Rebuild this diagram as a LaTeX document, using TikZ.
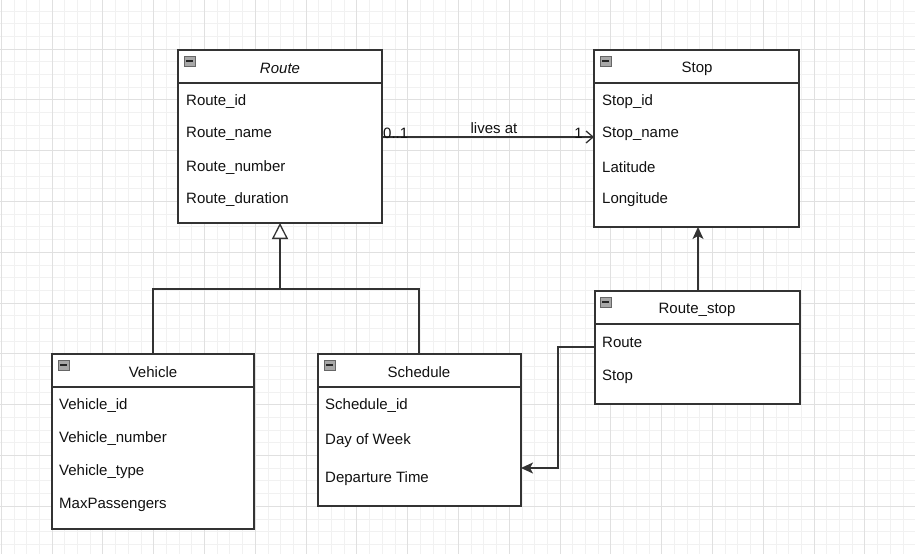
\documentclass[tikz,border=0pt]{standalone}
\usepackage{fontspec}
\setmainfont{Liberation Sans}
\usetikzlibrary{arrows.meta}
\definecolor{lineC}{HTML}{333333}
\definecolor{textC}{HTML}{111111}
\definecolor{gridMinor}{HTML}{F1F1F1}
\definecolor{gridMajor}{HTML}{E0E0E0}
\definecolor{iconFill}{HTML}{A8A8A8}
\tikzset{
  umlbox/.style={draw=lineC, line width=1.3pt, fill=white, rectangle, anchor=north west, inner sep=0pt, outer sep=0pt},
  hdrline/.style={draw=lineC, line width=1.3pt},
  ttl/.style={text=textC, font=\fontsize{15}{18}\selectfont, inner sep=0pt, yshift=-1.5pt},
  attr/.style={text=textC, font=\fontsize{15}{18}\selectfont, inner sep=0pt, anchor=west, yshift=-1.5pt},
  conn/.style={draw=lineC, line width=1.3pt},
  minusicon/.style={draw=gray!80!black, fill=iconFill, line width=0.6pt},
}
\newcommand{\minusmark}[2]{%
  \filldraw[minusicon] (#1,#2) rectangle ++(11,10);
  \draw[black!85, line width=1.4pt] (#1+2,#2+5) -- ++(7,0);
}
\begin{document}
\begin{tikzpicture}[x=1pt,y=-1pt]
\useasboundingbox (0,0) rectangle (915,554);
\fill[white] (0,0) rectangle (915,554);
% grid
\foreach \i in {-4,...,72} {
  \pgfmathsetmacro{\gx}{1.2+12.7*\i}
  \draw[gridMinor, line width=0.7pt] (\gx,0) -- (\gx,554);
}
\foreach \i in {-4,...,44} {
  \pgfmathsetmacro{\gy}{49+12.7*\i}
  \draw[gridMinor, line width=0.7pt] (0,\gy) -- (915,\gy);
}
\foreach \i in {-1,...,18} {
  \pgfmathsetmacro{\gx}{1.2+50.8*\i}
  \draw[gridMajor, line width=1pt] (\gx,0) -- (\gx,554);
}
\foreach \i in {-1,...,11} {
  \pgfmathsetmacro{\gy}{49+50.8*\i}
  \draw[gridMajor, line width=1pt] (0,\gy) -- (915,\gy);
}

% Route
\node[umlbox, minimum width=204pt, minimum height=173pt] (route) at (178,50) {};
\draw[hdrline] (178,83) -- (382,83);
\minusmark{184}{56}
\node[ttl, font=\fontsize{15}{18}\selectfont\itshape] (routeT) at (280,67) {Route};
\node[attr] (r1) at (186,100) {Route\_id};
\node[attr] (r2) at (186,132) {Route\_name};
\node[attr] (r3) at (186,166) {Route\_number};
\node[attr] (r4) at (186,198) {Route\_duration};

% Stop
\node[umlbox, minimum width=205pt, minimum height=177pt] (stop) at (594,50) {};
\draw[hdrline] (594,83) -- (799,83);
\minusmark{600}{56}
\node[ttl] (stopT) at (697,67) {Stop};
\node[attr] (s1) at (602,100) {Stop\_id};
\node[attr] (s2) at (602,132) {Stop\_name};
\node[attr] (s3) at (602,166) {Latitude};
\node[attr] (s4) at (602,198) {Longitude};

% Route_stop
\node[umlbox, minimum width=205pt, minimum height=113pt] (rstop) at (595,291) {};
\draw[hdrline] (595,324) -- (800,324);
\minusmark{600}{297}
\node[ttl] (rstopT) at (697,308) {Route\_stop};
\node[attr] (rs1) at (602,341) {Route};
\node[attr] (rs2) at (602,375) {Stop};

% Vehicle
\node[umlbox, minimum width=202pt, minimum height=175pt] (veh) at (52,354) {};
\draw[hdrline] (52,387) -- (254,387);
\minusmark{58}{360}
\node[ttl] (vehT) at (153,371) {Vehicle};
\node[attr] (v1) at (59,404) {Vehicle\_id};
\node[attr] (v2) at (59,437) {Vehicle\_number};
\node[attr] (v3) at (59,470) {Vehicle\_type};
\node[attr] (v4) at (59,503) {MaxPassengers};

% Schedule
\node[umlbox, minimum width=203pt, minimum height=152pt] (sch) at (318,354) {};
\draw[hdrline] (318,387) -- (521,387);
\minusmark{324}{360}
\node[ttl] (schT) at (419,371) {Schedule};
\node[attr] (sc1) at (325,404) {Schedule\_id};
\node[attr] (sc2) at (325,439) {Day of Week};
\node[attr] (sc3) at (325,477) {Departure Time};

% Route -> Stop association
\coordinate (aL) at (route.east |- 0,137);
\coordinate (aR) at (stop.west |- 0,137);
\draw[conn, -{Straight Barb[length=7pt,width=12pt,line width=1.3pt]}] (aL) -- (aR);
\node[ttl, anchor=west] (m1) at (383,132) {0..1};
\node[ttl, anchor=east] (m2) at (583,132) {1};
\node[ttl] (lbl) at (494,127) {lives at};

% Generalization
\coordinate (gj) at (280,289);
\coordinate (gl) at (153,289);
\coordinate (gr) at (419,289);
\draw[conn] (veh.north -| gl) -- (gl) -- (gr) -- (sch.north -| gr);
\draw[conn, -{Triangle[open,length=16pt,width=16pt,fill=white,line width=1.3pt]}] (gj) -- (route.south -| gj);

% Route_stop -> Stop
\draw[conn, -{Stealth[length=12pt,width=11pt,inset=3pt]}] (rstop.north -| 698,0) -- (stop.south -| 698,0);

% Route_stop -> Schedule
\coordinate (b1) at (558,347);
\coordinate (b2) at (558,468);
\draw[conn, -{Stealth[length=12pt,width=11pt,inset=3pt]}] (rstop.west |- b1) -- (b1) -- (b2) -- (sch.east |- b2);
\end{tikzpicture}
\end{document}
